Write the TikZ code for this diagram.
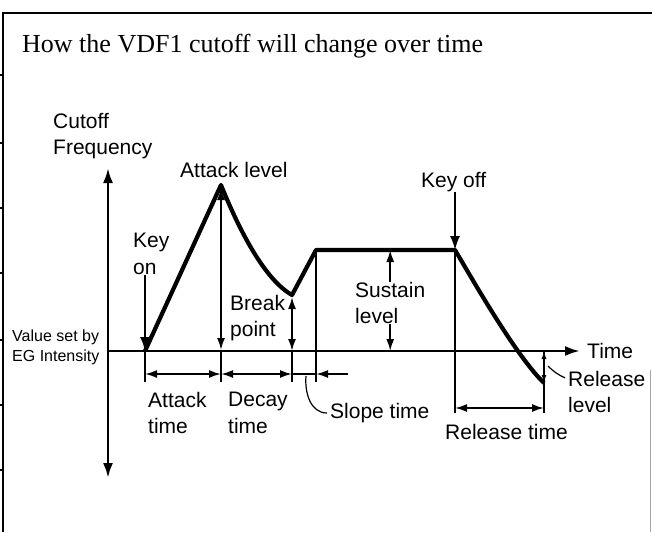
\documentclass[tikz,border=0pt]{standalone}
\usepackage{fontspec}
\setmainfont{Liberation Serif}
\setsansfont{Liberation Sans}
\usetikzlibrary{arrows.meta,positioning,calc}

\begin{document}
\begin{tikzpicture}[x=1pt, y=-1pt, font=\sffamily\fontsize{21}{26.5}\selectfont, >={Latex[length=12pt,width=8pt]}]
  \tikzstyle{lbl}=[inner sep=0pt, align=left, anchor=west]
  \tikzstyle{axis}=[line width=2.6pt]
  \tikzstyle{env}=[line width=4.2pt, line join=round]
  \tikzstyle{dim}=[line width=1.8pt]
  \tikzstyle{tick}=[line width=1.6pt]
  \useasboundingbox (0,0) rectangle (652,532);

  % frame
  \draw[line width=1.8pt] (3,532) -- (3,13) -- (652,13);
  \draw[black!35, line width=0.8pt] (650,370) -- (650,532);
  \foreach \y in {75,143,208,273,340,405,470}
    \draw[line width=1.2pt] (0,\y) -- (3,\y);

  \node[lbl, font=\rmfamily\fontsize{26}{30}\selectfont] (title) at (22,46) {How the VDF1 cutoff will change over time};

  % axes
  \coordinate (O) at (108,351);
  \coordinate (ytop) at (108,168);
  \coordinate (ybot) at (108,478);
  \coordinate (xend) at (580,351);
  \draw[axis, <->, >={Latex[length=15pt,width=10pt]}] (ybot) -- (ytop);
  \draw[axis, ->, >={Latex[length=15pt,width=10pt]}] (O) -- (xend);

  % envelope points
  \coordinate (kon) at (145,351);
  \coordinate (peak) at (221,185);
  \coordinate (brk) at (292,295);
  \coordinate (sus) at (316,250);
  \coordinate (koff) at (455,250);
  \coordinate (rel) at (544,383);
  \coordinate (dt) at (0,374);
  \coordinate (tk) at (0,382);
  \coordinate (rt) at (0,408);
  \coordinate (rtk) at (0,413);

  \draw[env] (kon) -- (peak) .. controls (236,222) and (262,278) .. (brk) -- (sus) -- (koff) .. controls (470,275) and (515,355) .. (rel);

  % labels
  \node[lbl] (cutoff) at (53,136) {Cutoff\\Frequency};
  \node[lbl] (atklvl) at (180,170) {Attack level};
  \node[lbl] (keyoff) at (421,182) {Key off};
  \node[lbl] (keyon) at (133,254) {Key\\on};
  \node[lbl] (break) at (230,318) {Break\\point};
  \node[lbl] (sustain) at (355,303) {Sustain\\level};
  \node[lbl, font=\sffamily\fontsize{16}{20}\selectfont] (egint) at (12,347) {Value set by\\EG Intensity};
  \node[lbl] (time) at (587,351) {Time};
  \node[lbl] (rellvl) at (568,392) {Release\\level};
  \node[lbl] (atktime) at (148,413) {Attack\\time};
  \node[lbl] (dectime) at (228,413) {Decay\\time};
  \node[lbl] (slope) at (330,413) {Slope time};
  \node[lbl] (reltime) at (445,432) {Release time};

  % key on / key off
  \draw[dim, ->, >={Latex[length=14pt,width=10pt]}] (keyon.south -| kon) -- (kon);
  \draw[dim, ->, >={Latex[length=14pt,width=10pt]}] (keyoff.south -| koff) -- (koff);

  % levels
  \draw[dim, <->, shorten <=1pt, shorten >=3pt] (peak |- O) -- (peak);
  \draw[dim, <->, shorten >=2pt] (brk |- O) -- (brk);
  \draw[dim, ->] (sustain.north) -- (sustain.north |- koff);
  \draw[dim, ->] (sustain.south) -- (sustain.south |- O);
  \draw[dim, <->, >={Latex[length=8pt,width=5pt]}] (rel |- O) -- (rel);
  \coordinate (rellead) at (548,366);
  \draw[line width=1.2pt] (rellead) to[bend right=10] ($(rellvl.north west)+(-3,7)$);

  % ticks
  \draw[tick] (kon) -- (kon |- tk);
  \draw[tick] (peak |- O) -- (peak |- tk);
  \draw[tick] (brk |- O) -- (brk |- tk);
  \draw[tick] (sus) -- (sus |- tk);
  \draw[tick] (koff) -- (koff |- rtk);
  \draw[tick] (rel |- O) -- (rel |- rtk);

  % times
  \draw[dim, <->] (kon |- dt) -- (peak |- dt);
  \draw[dim, <->] (peak |- dt) -- (brk |- dt);
  \draw[dim] (brk |- dt) -- (sus |- dt);
  \draw[dim, <-] (sus |- dt) -- ++(32,0);
  \coordinate (slopelead) at (306,376);
  \draw[line width=1.2pt] (slopelead) to[out=-95, in=180] ($(slope.west)+(-3,0)$);
  \draw[dim, <->] (koff |- rt) -- (rel |- rt);
\end{tikzpicture}
\end{document}
